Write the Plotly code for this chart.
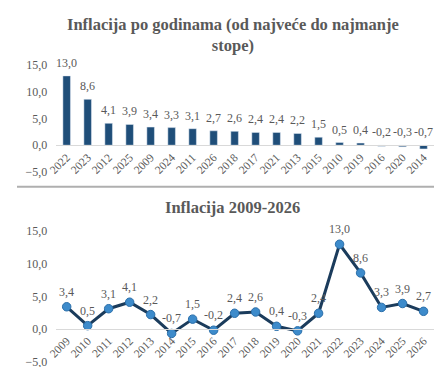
import plotly.graph_objects as go

# ---- data ----
years = ["2009", "2010", "2011", "2012", "2013", "2014", "2015", "2016", "2017",
         "2018", "2019", "2020", "2021", "2022", "2023", "2024", "2025", "2026"]
inflation = [3.4, 0.5, 3.1, 4.1, 2.2, -0.7, 1.5, -0.2, 2.4,
             2.6, 0.4, -0.3, 2.4, 13.0, 8.6, 3.3, 3.9, 2.7]
y_ticks = [-5, 0, 5, 10, 15]
title_top = "Inflacija po godinama (od najveće do najmanje<br>stope)"
title_bottom = "Inflacija 2009-2026"

# sorted (largest to smallest) for the bar chart, stable for ties
order = sorted(range(len(years)), key=lambda i: -inflation[i])
sorted_years = [years[i] for i in order]
sorted_values = [inflation[i] for i in order]

W, H = 442, 367
FONT = "Liberation Serif"
GRAY = "#595959"
BAR = "#1F4E79"
LINE = "#1B3C5C"
MARK = "#3D8BCB"


def fx(px):
    return px / W


def fy(px):
    return 1 - px / H


def fmt(v):
    return f"{v:.1f}".replace(".", ",")


fig = go.Figure()

fig.add_trace(go.Bar(x=sorted_years, y=sorted_values, marker_color=BAR,
                     xaxis="x", yaxis="y", hoverinfo="x+y"))

fig.add_trace(go.Scatter(x=years, y=inflation, mode="lines+markers",
                         line=dict(color=LINE, width=3),
                         marker=dict(size=8.5, color=MARK, line=dict(color="#2B6FAA", width=1)),
                         xaxis="x2", yaxis="y2"))

annotations = []
for i, v in enumerate(sorted_values):
    annotations.append(dict(x=i, y=max(v, 0), xref="x", yref="y", text=fmt(v),
                            showarrow=False, yshift=13, yanchor="middle",
                            font=dict(family=FONT, size=12, color=GRAY)))
for i, v in enumerate(inflation):
    annotations.append(dict(x=i, y=v, xref="x2", yref="y2", text=fmt(v),
                            showarrow=False, yshift=15, yanchor="middle",
                            font=dict(family=FONT, size=12, color=GRAY)))

annotations.append(dict(x=fx(220), y=fy(21), xref="paper", yref="paper",
                        text="<b>" + title_top + "</b>",
                        showarrow=False, xanchor="center", yanchor="middle",
                        font=dict(family=FONT, size=16.5, color=GRAY)))
annotations.append(dict(x=fx(220), y=fy(200), xref="paper", yref="paper",
                        text="<b>" + title_bottom + "</b>",
                        showarrow=False, xanchor="center", yanchor="middle",
                        font=dict(family=FONT, size=16.5, color=GRAY)))

xdom = [fx(40), fx(425.7)]
top_dom = [fy(163.1), fy(52.2)]
bot_dom = [fy(360.2), fy(224.8)]
top_zero = fy(135.4)
bot_zero = fy(326.3)

xcommon = dict(type="category", showgrid=False, zeroline=False, showline=True,
               linecolor="#D9D9D9", linewidth=1, ticks="", tickangle=-45,
               tickfont=dict(family=FONT, size=11.5, color=GRAY), domain=xdom,
               anchor="free", range=[-0.5, len(years) - 0.5], autorange=False)
ycommon = dict(range=[-5, 15], tickvals=y_ticks, tickformat=".1f", showgrid=False,
               zeroline=False, showline=False, ticks="", ticklabelstandoff=8,
               tickfont=dict(family=FONT, size=12, color=GRAY))

fig.update_layout(
    width=W, height=H,
    margin=dict(l=0, r=0, t=0, b=0),
    paper_bgcolor="white", plot_bgcolor="white",
    separators=", ",
    showlegend=False,
    bargap=0.64,
    xaxis=dict(xcommon, position=top_zero, categoryorder="array", categoryarray=sorted_years),
    yaxis=dict(ycommon, domain=top_dom, anchor="x"),
    xaxis2=dict(xcommon, position=bot_zero, categoryorder="array", categoryarray=years),
    yaxis2=dict(ycommon, domain=bot_dom, anchor="x2"),
    annotations=annotations,
    shapes=[
        dict(type="line", xref="paper", yref="paper", x0=0, x1=fx(439), y0=fy(178.5), y1=fy(178.5),
             line=dict(color="#AFAFAF", width=2)),
        dict(type="line", xref="paper", yref="paper", x0=fx(439), x1=fx(439), y0=0, y1=1,
             line=dict(color="#C8C8C8", width=2)),
    ],
)

fig.write_html("out.html")
